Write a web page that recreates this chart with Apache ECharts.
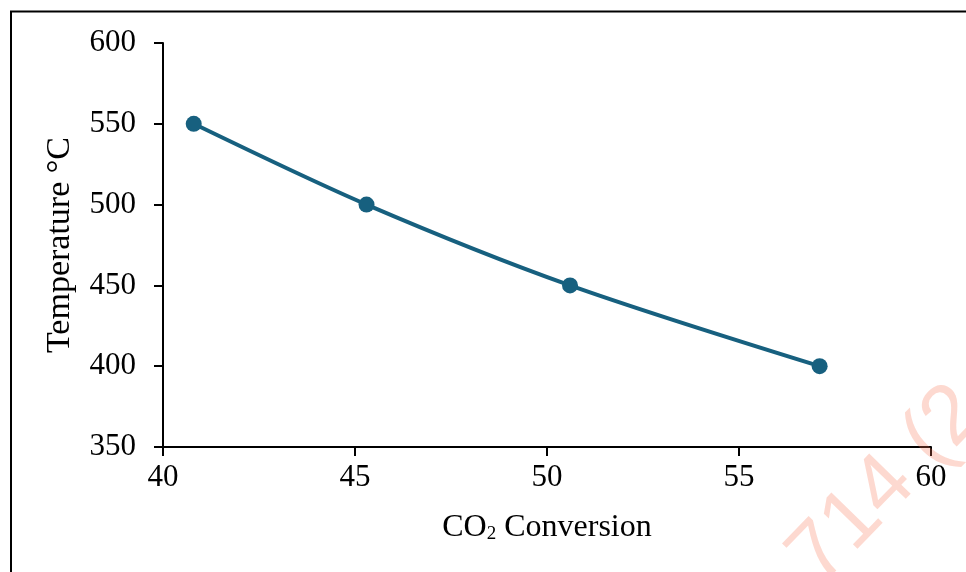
<!DOCTYPE html>
<html>
<head>
<meta charset="utf-8">
<script src="https://cdn.jsdelivr.net/npm/echarts@6/dist/echarts.min.js"></script>
<style>
html,body{margin:0;padding:0;background:#fff;}
#chart{width:966px;height:572px;}
</style>
</head>
<body>
<div id="chart"></div>
<script>
// Data
const conversion = [40.8, 45.3, 50.6, 57.1];
const temperature = [550, 500, 450, 400];
const xTicks = [40, 45, 50, 55, 60];
const yTicks = [350, 400, 450, 500, 550, 600];

const FONT = '"Liberation Serif", "DejaVu Serif", serif';
const lineColor = '#17607f';

const chart = echarts.init(document.getElementById('chart'), null, {renderer: 'canvas'});
const seriesData = conversion.map((c, i) => [c, temperature[i]]);

chart.setOption({
  backgroundColor: '#ffffff',
  animation: false,
  grid: {left: 163, right: 35, top: 43, bottom: 125, containLabel: false},
  xAxis: {
    type: 'value',
    min: xTicks[0], max: xTicks[xTicks.length - 1], interval: 5,
    splitLine: {show: false},
    axisLine: {show: true, onZero: false, lineStyle: {color: '#000', width: 2}},
    axisTick: {show: true, inside: false, length: 9, lineStyle: {color: '#000', width: 2}},
    axisLabel: {color: '#000', fontFamily: FONT, fontSize: 31, margin: 15},
    name: 'CO{sub|2} Conversion',
    nameLocation: 'middle',
    nameGap: 65,
    nameTextStyle: {
      color: '#000', fontFamily: FONT, fontSize: 32,
      rich: {sub: {fontFamily: FONT, fontSize: 19, color: '#000', verticalAlign: 'bottom', padding: [10, 0, 0, 0]}}
    }
  },
  yAxis: {
    type: 'value',
    min: yTicks[0], max: yTicks[yTicks.length - 1], interval: 50,
    splitLine: {show: false},
    axisLine: {show: true, onZero: false, lineStyle: {color: '#000', width: 2}},
    axisTick: {show: true, inside: false, length: 9, lineStyle: {color: '#000', width: 2}},
    axisLabel: {color: '#000', fontFamily: FONT, fontSize: 31, margin: 27},
    name: 'Temperature °C',
    nameLocation: 'middle',
    nameGap: 86,
    nameRotate: 90,
    nameTextStyle: {color: '#000', fontFamily: FONT, fontSize: 34}
  },
  series: [{
    type: 'line',
    data: seriesData,
    smooth: 0.3,
    symbol: 'circle',
    symbolSize: 16,
    lineStyle: {color: lineColor, width: 4},
    itemStyle: {color: lineColor}
  }],
  graphic: [
    {type: 'line', shape: {x1: 10, y1: 11.5, x2: 966, y2: 11.5}, style: {stroke: '#000', lineWidth: 2}},
    {type: 'line', shape: {x1: 11, y1: 11, x2: 11, y2: 572}, style: {stroke: '#000', lineWidth: 2}},
    {type: 'text', x: 834, y: 600, rotation: 0.8, z: 100,
     style: {text: '714 (2', fontSize: 84, fontFamily: '"Liberation Sans", sans-serif', fill: 'rgba(248,120,85,0.28)', textVerticalAlign: 'bottom'}}
  ]
});
</script>
</body>
</html>
